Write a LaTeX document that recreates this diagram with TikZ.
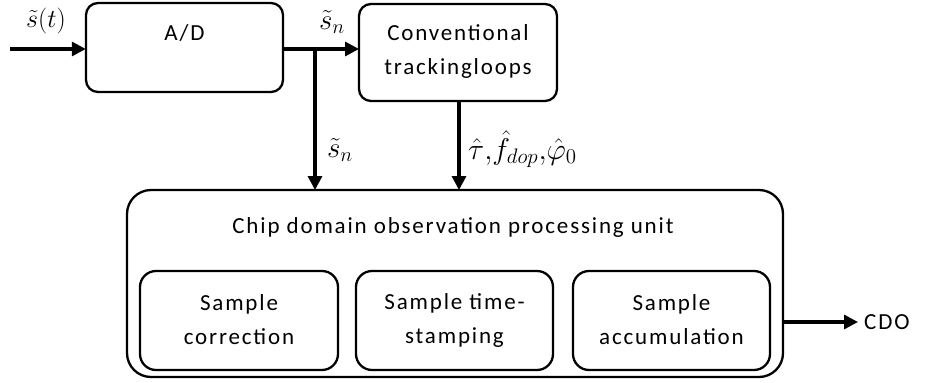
\RequirePackage{fix-cm}
\documentclass[tikz,border=0pt]{standalone}
\usepackage{fontspec}
\setmainfont[LetterSpace=8]{Carlito}
\usetikzlibrary{arrows.meta}
\tikzset{
  blk/.style={draw, line width=2.3pt, rounded corners=12pt},
  bigblk/.style={draw, line width=2.3pt, rounded corners=24pt},
  txt/.style={font=\fontsize{23}{34}\selectfont, align=center, inner sep=0pt},
  mlab/.style={font=\fontsize{20}{24}\selectfont, inner sep=0pt},
  arr/.style={line width=3.2pt, -{Triangle[length=14pt,width=14pt]}},
}
\begin{document}
\begin{tikzpicture}[x=1pt,y=-1pt]
\useasboundingbox (0,0) rectangle (938,383);
% boxes
\draw[blk] (86,3) rectangle (283,92);
\node[minimum width=197pt, minimum height=89pt, inner sep=0pt] (ad) at (184.5,47.5) {};
\node[txt] (adt) at (184.5,33) {A/D};
\draw[blk] (359,4) rectangle (557,101);
\node[minimum width=198pt, minimum height=97pt, inner sep=0pt] (conv) at (458,52.5) {};
\node[txt] (convt) at (458,51) {Conventional\\trackingloops};
\draw[bigblk] (127,190) rectangle (783,377);
\node[minimum width=656pt, minimum height=187pt, inner sep=0pt] (cdp) at (455,283.5) {};
\node[txt] (cdpt) at (453,227) {Chip domain observation processing unit};
\draw[blk,rounded corners=16pt] (140,271) rectangle (338,370);
\node[txt] (s1) at (239,320) {Sample\\correction};
\draw[blk,rounded corners=16pt] (356,271) rectangle (553,370);
\node[txt] (s2) at (454.5,320) {Sample time-\\stamping};
\draw[blk,rounded corners=16pt] (573,271) rectangle (770,370);
\node[txt] (s3) at (671.5,320) {Sample\\accumulation};
% connectors
\coordinate (in) at (10,49);
\coordinate (adout) at (283,49);
\coordinate (convin) at (359,49);
\coordinate (br) at (315,49);
\coordinate (brdown) at (315,190);
\coordinate (convout) at (459,101);
\coordinate (convdown) at (459,190);
\coordinate (cdpout) at (783,322);
\coordinate (cdoend) at (858,322);
\draw[arr] (in) -- (ad.west |- in);
\draw[arr] (adout) -- (convin);
\draw[arr] (br) -- (brdown);
\draw[arr] (convout) -- (convdown);
\draw[arr] (cdpout) -- (cdoend);
\node[txt, anchor=west] (cdo) at (864,322) {CDO};
% labels
\node[mlab] (lst) at (46,21) {\scalebox{1.3}{$\tilde{s}(t)$}};
\node[mlab] (lsn1) at (332,22) {\scalebox{1.45}{$\tilde{s}_n$}};
\node[mlab] (lsn2) at (340,150) {\scalebox{1.45}{$\tilde{s}_n$}};
\node[mlab, anchor=west] (lpar) at (468,149) {\scalebox{1.5}{$\hat{\tau}{,}\hat{f}_{dop}{,}\hat{\varphi}_0$}};
\end{tikzpicture}
\end{document}
